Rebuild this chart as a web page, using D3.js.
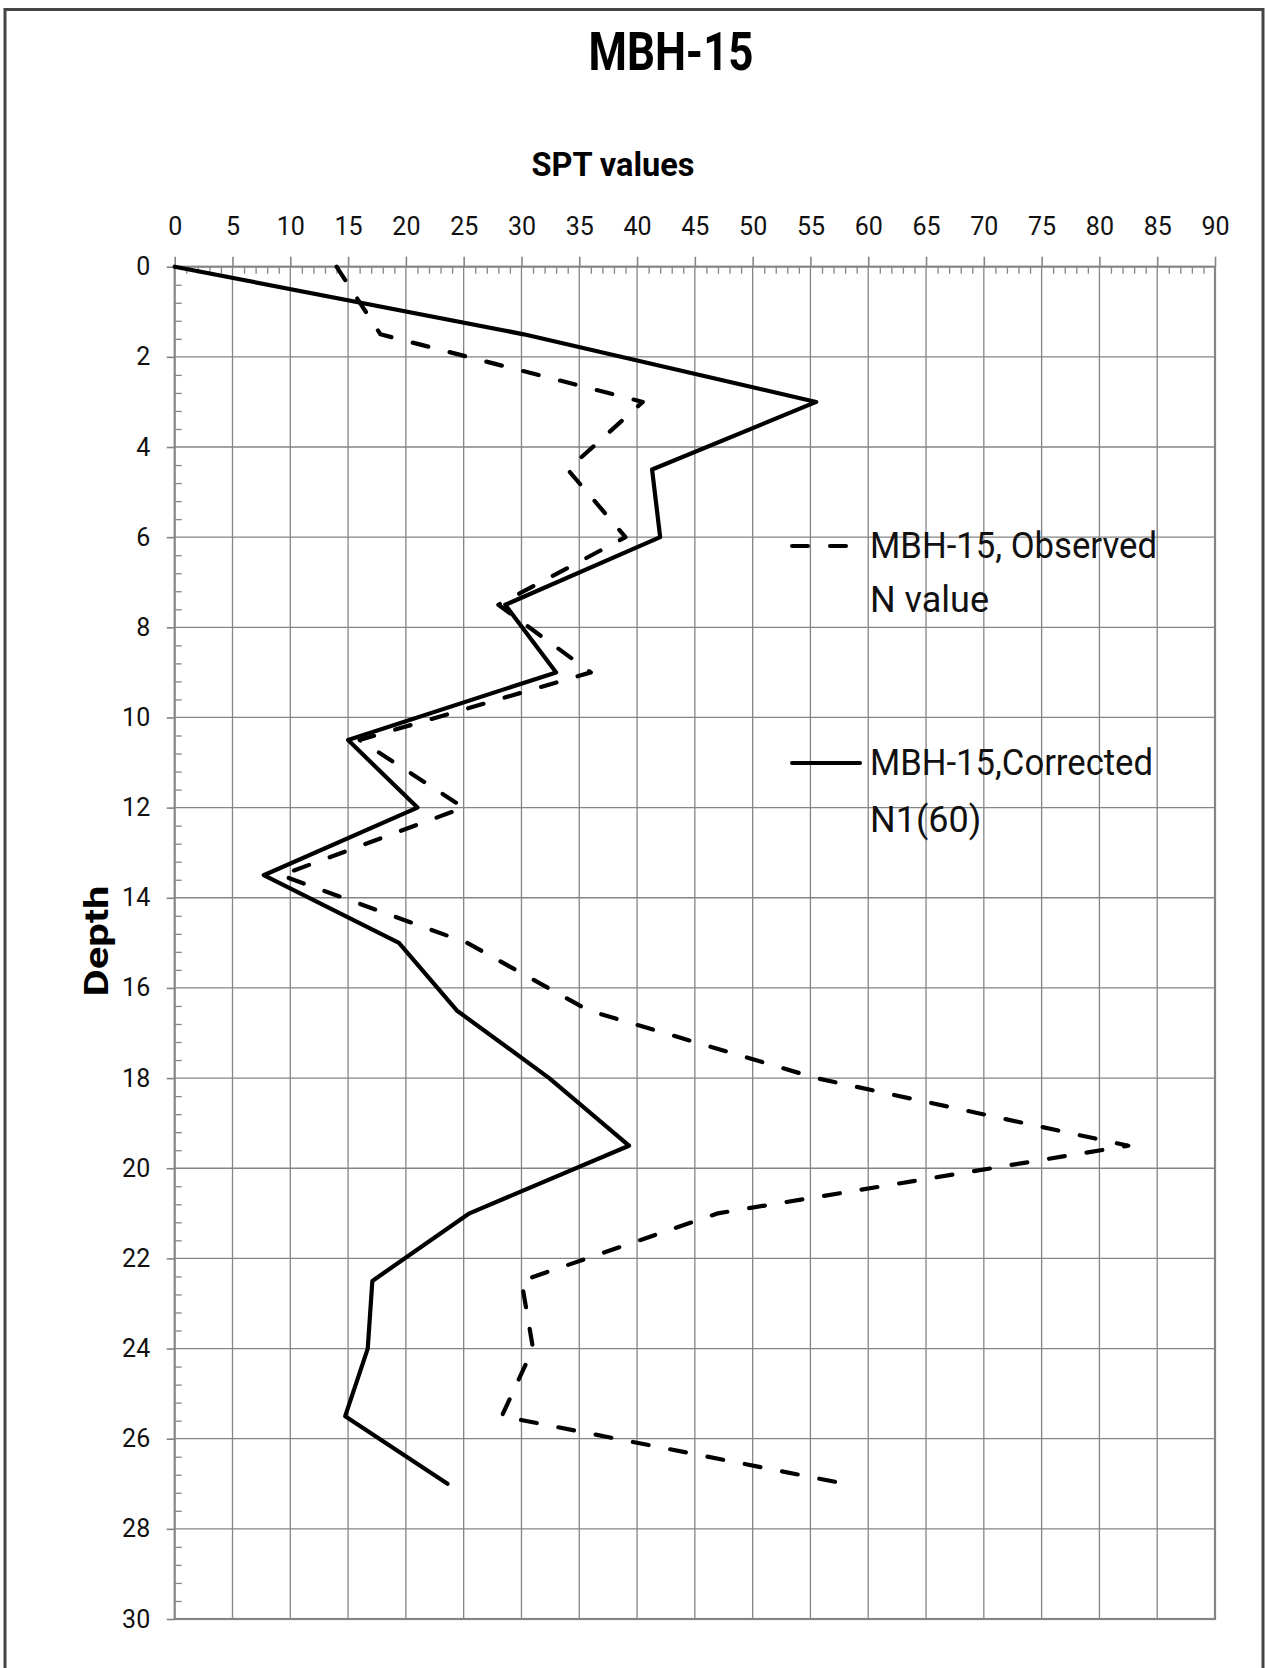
<!DOCTYPE html>
<html><head><meta charset="utf-8">
<script src="https://cdn.jsdelivr.net/npm/d3@7"></script>
<style>
html,body{margin:0;padding:0;background:#fff;}
svg{display:block;}
</style></head>
<body>
<svg id="chart" width="1265" height="1668"></svg>
<script>
// ---- data ----
const depths = [0, 1.5, 3, 4.5, 6, 7.5, 9, 10.5, 12, 13.5, 15, 16.5, 18, 19.5, 21, 22.5, 24, 25.5, 27];
const observedN = [14, 17.8, 40.5, 34, 39, 28, 36, 16, 25, 9.2, 25.3, 35.8, 55.5, 82.5, 47, 30, 31, 28.3, 58];
const correctedN160 = [0, 30.2, 55.5, 41.3, 42, 28.6, 33, 15, 21, 7.7, 19.4, 24.4, 32.4, 39.3, 25.5, 17.1, 16.7, 14.75, 23.6];
const xTicks = [0,5,10,15,20,25,30,35,40,45,50,55,60,65,70,75,80,85,90];
const yTicks = [0,2,4,6,8,10,12,14,16,18,20,22,24,26,28,30];
const seriesNames = ["MBH-15, Observed", "N value", "MBH-15,Corrected", "N1(60)"];
const chartTitle = "MBH-15";
const xTitle = "SPT values";
const yTitle = "Depth";

const svg = d3.select("#chart");
const x = d3.scaleLinear().domain([0, 90]).range([174.7, 1215]);
const y = d3.scaleLinear().domain([0, 30]).range([266.7, 1619]);
const gridColor = "#858585";
const font = "Roboto, 'Open Sans', sans-serif";

// outer frame (open at bottom)
svg.append("path").attr("d", "M5,1668 V9.5 H1263 V1668")
  .attr("fill", "none").attr("stroke", "#444").attr("stroke-width", 3);

// gridlines
const grid = svg.append("g");
grid.selectAll("line.v").data(xTicks.slice(1, -1)).join("line")
  .attr("x1", d => x(d)).attr("x2", d => x(d))
  .attr("y1", y(0)).attr("y2", y(30))
  .attr("stroke", gridColor).attr("stroke-width", 1.3);
grid.selectAll("line.h").data(yTicks.slice(1, -1)).join("line")
  .attr("y1", d => y(d)).attr("y2", d => y(d))
  .attr("x1", x(0)).attr("x2", x(90))
  .attr("stroke", gridColor).attr("stroke-width", 1.3);

// plot frame
svg.append("rect").attr("x", x(0)).attr("y", y(0))
  .attr("width", x(90) - x(0)).attr("height", y(30) - y(0))
  .attr("fill", "none").attr("stroke", gridColor).attr("stroke-width", 2.2);

// minor ticks
const minorX = d3.range(0, 91, 1).filter(v => v % 5 !== 0);
const minorY = d3.range(0, 30.01, 0.4).map(v => +v.toFixed(1)).filter(v => Math.abs(v / 2 - Math.round(v / 2)) > 1e-6);
const gMinX = svg.append("g").attr("transform", `translate(0,${y(0)})`)
  .call(d3.axisTop(x).tickValues(minorX).tickSize(-7).tickFormat(""));
const gMinY = svg.append("g").attr("transform", `translate(${x(0)},0)`)
  .call(d3.axisLeft(y).tickValues(minorY).tickSize(-7).tickFormat(""));
[gMinX, gMinY].forEach(g => {
  g.select(".domain").remove();
  g.selectAll("line").attr("stroke", gridColor).attr("stroke-width", 1.3);
});

// major axes
const gx = svg.append("g").attr("transform", `translate(0,${y(0)})`)
  .call(d3.axisTop(x).tickValues(xTicks).tickSize(10).tickPadding(21.7).tickFormat(d3.format("d")));
const gy = svg.append("g").attr("transform", `translate(${x(0)},0)`)
  .call(d3.axisLeft(y).tickValues(yTicks).tickSize(8).tickPadding(16.5).tickFormat(d3.format("d")));
[gx, gy].forEach(g => {
  g.select(".domain").remove();
  g.selectAll("line").attr("stroke", gridColor).attr("stroke-width", 1.6);
  g.selectAll("text").attr("font-family", font).attr("font-size", 25).attr("fill", "#111");
});

// series lines
const line = d3.line().x(d => x(d[0])).y(d => y(d[1]));
const obsPts = depths.map((d, i) => [observedN[i], d]);
const corPts = depths.map((d, i) => [correctedN160[i], d]);
svg.append("path").datum(obsPts).attr("d", line)
  .attr("fill", "none").attr("stroke", "#000").attr("stroke-width", 4.2)
  .attr("stroke-dasharray", "16 22").attr("stroke-linecap", "round").attr("stroke-linejoin", "round");
svg.append("path").datum(corPts).attr("d", line)
  .attr("fill", "none").attr("stroke", "#000").attr("stroke-width", 4.2)
  .attr("stroke-linecap", "round").attr("stroke-linejoin", "round");

// titles
svg.append("text").attr("x", 671).attr("y", 70).attr("text-anchor", "middle")
  .attr("font-family", font).attr("font-weight", "bold").attr("font-size", 53)
  .attr("textLength", 165).attr("lengthAdjust", "spacingAndGlyphs").text(chartTitle);
svg.append("text").attr("x", 613).attr("y", 176).attr("text-anchor", "middle")
  .attr("font-family", font).attr("font-weight", "bold").attr("font-size", 33)
  .attr("textLength", 163).attr("lengthAdjust", "spacingAndGlyphs").text(xTitle);
svg.append("text").attr("transform", "translate(108,941) rotate(-90)").attr("text-anchor", "middle")
  .attr("font-family", font).attr("font-weight", "bold").attr("font-size", 33)
  .attr("textLength", 111).attr("lengthAdjust", "spacingAndGlyphs").text(yTitle);

// legend
const lg = svg.append("g");
lg.append("line").attr("x1", 792).attr("x2", 860).attr("y1", 546).attr("y2", 546)
  .attr("stroke", "#000").attr("stroke-width", 4).attr("stroke-dasharray", "16 22").attr("stroke-linecap", "round");
lg.append("line").attr("x1", 792).attr("x2", 860).attr("y1", 763).attr("y2", 763)
  .attr("stroke", "#000").attr("stroke-width", 4).attr("stroke-linecap", "round");
const legendText = [
  {t: seriesNames[0], y: 558, w: 287},
  {t: seriesNames[1], y: 612, w: null},
  {t: seriesNames[2], y: 775, w: 283},
  {t: seriesNames[3], y: 832, w: null}
];
legendText.forEach(o => {
  const t = lg.append("text").attr("x", 870).attr("y", o.y)
    .attr("font-family", font).attr("font-size", 36).attr("fill", "#111").text(o.t);
  if (o.w) t.attr("textLength", o.w).attr("lengthAdjust", "spacingAndGlyphs");
});
</script>
</body></html>
